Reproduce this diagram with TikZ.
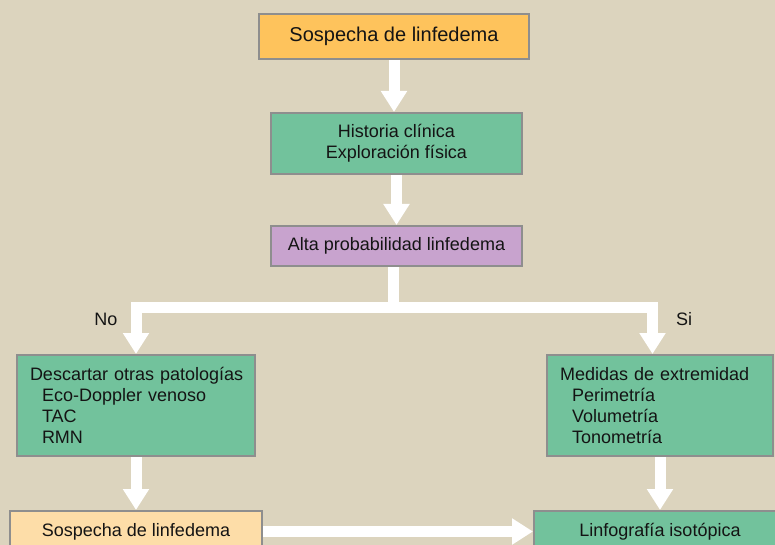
\documentclass[tikz,border=0pt]{standalone}
\usepackage{fontspec}
\setmainfont{Liberation Sans}
\usetikzlibrary{arrows.meta}
\definecolor{bg}{HTML}{DCD4BE}
\definecolor{boxline}{HTML}{8E8E8E}
\definecolor{orangebox}{HTML}{FEC35C}
\definecolor{lightorange}{HTML}{FDDDA8}
\definecolor{greenbox}{HTML}{72C29C}
\definecolor{purplebox}{HTML}{C8A3CE}
\definecolor{txt}{HTML}{141414}
\begin{document}
\begin{tikzpicture}[x=1pt,y=-1pt,
  box/.style={draw=boxline, line width=2pt, inner sep=0pt, text=txt, align=center,
    font=\fontsize{18}{21}\selectfont},
  listbox/.style={box, align=left, inner xsep=13pt},
  bigarrow/.style={draw=white, line width=11pt, line join=miter,
    -{Triangle[width=25pt,length=21pt]}},
  bigline/.style={draw=white, line width=11pt},
  lbl/.style={text=txt, font=\fontsize{18}{21}\selectfont, inner sep=0pt}]
\useasboundingbox (0,0) rectangle (775,545);
\fill[bg] (0,0) rectangle (775,545);

\node[box, fill=orangebox, minimum width=270pt, minimum height=45pt,
  font=\fontsize{20}{23}\selectfont] (susp) at (394,36.5) {Sospecha de linfedema};
\node[box, fill=greenbox, minimum width=251pt, minimum height=61pt] (hist) at (396.5,143.5)
  {Historia clínica\\Exploración física};
\node[box, fill=purplebox, minimum width=251pt, minimum height=40pt] (prob) at (396.5,246)
  {Alta probabilidad linfedema};
\node[listbox, fill=greenbox, minimum width=238pt, minimum height=101pt, text width=212pt]
  (desc) at (136,405.5)
  {\mbox{Descartar otras patologías}\\\hspace*{12pt}Eco-Doppler venoso\\\hspace*{12pt}TAC\\\hspace*{12pt}RMN};
\node[listbox, fill=greenbox, minimum width=226pt, minimum height=101pt, text width=200pt]
  (medi) at (660,405.5)
  {\mbox{Medidas de extremidad}\\\hspace*{12pt}Perimetría\\\hspace*{12pt}Volumetría\\\hspace*{12pt}Tonometría};
\node[box, fill=lightorange, minimum width=252pt, minimum height=41pt] (susp2) at (136,531.5)
  {Sospecha de linfedema};
\node[box, fill=greenbox, minimum width=252pt, minimum height=41pt] (linfo) at (660,531.5)
  {Linfografía isotópica};

\node[lbl] (no) at (106,319) {No};
\node[lbl] (si) at (684,319) {Si};

\coordinate (junc) at (393.5,307.5);
\coordinate (jl) at (136,307.5);
\coordinate (jr) at (652.5,307.5);

\draw[bigarrow] (susp.south) -- (susp.south |- hist.north);
\draw[bigarrow] (hist.south) -- (hist.south |- prob.north);
\draw[bigline] (prob.south -| junc) -- (junc);
\draw[bigarrow] (junc) -- (jl) -- (jl |- desc.north);
\draw[bigarrow] (junc) -- (jr) -- (jr |- medi.north);
\draw[bigarrow] (desc.south) -- (desc.south |- susp2.north);
\draw[bigarrow] (medi.south) -- (medi.south |- linfo.north);
\draw[bigarrow] (susp2.east) -- (susp2.east -| linfo.west);
\end{tikzpicture}
\end{document}
